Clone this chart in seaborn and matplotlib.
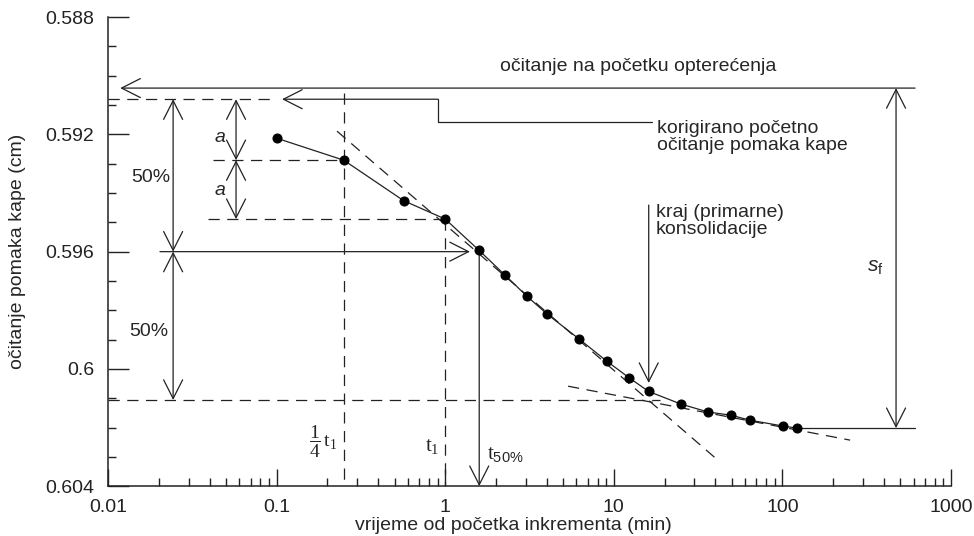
import numpy as np
import matplotlib
matplotlib.use('Agg')
import matplotlib.pyplot as plt
import matplotlib.ticker as mticker
import seaborn as sns

# ocitanja pomaka kape kroz vrijeme
time_min = [0.1, 0.25, 0.566, 1.0, 1.59, 2.26, 3.05, 4.02, 6.22, 9.05, 12.3, 16.1,
            25.0, 36.2, 49.5, 64.2, 100.8, 122]
reading_cm = [0.59213, 0.59288, 0.59426, 0.59489, 0.59596, 0.59680, 0.59752, 0.59813,
              0.59898, 0.59973, 0.60030, 0.60077, 0.60120, 0.60147, 0.60158, 0.60175,
              0.60195, 0.60202]

y_ticks = [0.588, 0.592, 0.596, 0.6, 0.604]
y_ticklabels = ['0.588', '0.592', '0.596', '0.6', '0.604']
x_ticks = [0.01, 0.1, 1, 10, 100, 1000]
x_ticklabels = ['0.01', '0.1', '1', '10', '100', '1000']

# karakteristicne razine
d_initial = 0.59042
d0 = 0.5908
d_a = 0.59288
d_2a = 0.59489
d50 = 0.596
d100 = 0.60106
d_final = 0.60202
t_quarter = 0.25
t1 = 1.0
t50 = 1.59
t_end = 16.1

# tangente
steep_x = [0.228, 42.7]
steep_y = [0.59189, 0.60318]
tail_x = [5.35, 252]
tail_y = [0.60059, 0.60243]

sns.set_style('ticks')
plt.rcParams['font.family'] = ['Liberation Sans', 'DejaVu Sans']
plt.rcParams['mathtext.fontset'] = 'custom'
plt.rcParams['mathtext.rm'] = 'Liberation Serif'
plt.rcParams['mathtext.it'] = 'Liberation Sans:italic'
plt.rcParams['mathtext.sf'] = 'Liberation Sans'

fig, ax = plt.subplots(figsize=(9.74, 5.36), dpi=100)
fig.subplots_adjust(left=0.111, right=0.9764, top=0.968, bottom=0.093)

ink = '#222222'
dash = (0, (9, 6))
lw = 0.9
fs = 14

sns.lineplot(x=time_min, y=reading_cm, ax=ax, color=ink, linewidth=lw,
             marker='o', markersize=6.5, markeredgecolor='black',
             markerfacecolor='black', zorder=5)

ax.set_xscale('log')
ax.set_xlim(0.01, 1000)
ax.set_ylim(0.604, 0.588)

ax.set_yticks(y_ticks)
ax.set_yticklabels(y_ticklabels)
ax.yaxis.set_minor_locator(mticker.MultipleLocator(0.001))
ax.set_xticks(x_ticks)
ax.set_xticklabels(x_ticklabels)
ax.xaxis.set_minor_locator(mticker.LogLocator(base=10, subs=np.arange(2, 10)))
ax.xaxis.set_minor_formatter(mticker.NullFormatter())

ax.tick_params(axis='both', which='major', direction='in', length=12, width=1,
               labelsize=fs, colors=ink)
ax.tick_params(axis='both', which='minor', direction='in', length=6, width=1,
               colors=ink)
ax.tick_params(axis='y', which='major', pad=10, length=15)
ax.tick_params(axis='x', which='major', pad=9)
sns.despine(ax=ax)
for s in ['left', 'bottom']:
    ax.spines[s].set_color(ink)
    ax.spines[s].set_linewidth(1.1)

ax.set_xlabel('vrijeme od početka inkrementa (min)', fontsize=fs)
ax.xaxis.set_label_coords(0.481, -0.065)
ax.set_ylabel('očitanje pomaka kape (cm)', fontsize=fs, labelpad=14)


def arrow(x0, y0, x1, y1, style='->'):
    ax.annotate('', xy=(x1, y1), xytext=(x0, y0),
                arrowprops=dict(arrowstyle=style + ',head_width=0.38,head_length=0.75',
                                color=ink, lw=lw, shrinkA=0, shrinkB=0,
                                mutation_scale=18))


# tangente i pomocne iscrtkane linije
ax.plot(steep_x, steep_y, color=ink, lw=lw, ls=dash)
ax.plot(tail_x, tail_y, color=ink, lw=lw, ls=dash)
ax.plot([0.01, 0.095], [d0, d0], color=ink, lw=lw, ls=dash)
ax.plot([0.042, t_quarter], [d_a, d_a], color=ink, lw=lw, ls=dash)
ax.plot([0.0392, t1], [d_2a, d_2a], color=ink, lw=lw, ls=dash)
ax.plot([0.01, 18.8], [d100, d100], color=ink, lw=lw, ls=dash)
ax.plot([t_quarter, t_quarter], [0.59059, 0.604], color=ink, lw=lw, ls=dash)
ax.plot([t1, t1], [d_2a, 0.604], color=ink, lw=lw, ls=dash)

# pocetno ocitanje
arrow(612, d_initial, 0.0118, d_initial)
ax.text(2.11, 0.5897, 'očitanje na početku opterećenja', fontsize=fs,
        va='center', ha='left')

# korigirano pocetno ocitanje
ax.plot([16.85, 0.906, 0.906], [0.59158, 0.59158, d0], color=ink, lw=lw)
arrow(0.906, d0, 0.1076, d0)
ax.text(18.0, 0.59209, 'korigirano početno\nočitanje pomaka kape', fontsize=fs,
        va='center', ha='left', linespacing=1.0)

# a, a
arrow(0.0574, d0, 0.0574, d_a, '<->')
arrow(0.0574, d_a, 0.0574, d_2a, '<->')
ax.text(0.0462, 0.59209, 'a', fontsize=fs, style='italic', ha='center', va='center')
ax.text(0.0462, 0.59393, 'a', fontsize=fs, style='italic', ha='center', va='center')

# 50 %
arrow(0.0243, d0, 0.0243, d50, '<->')
arrow(0.0243, d50, 0.0243, d100, '<->')
ax.text(0.018, 0.59346, '50%', fontsize=fs, ha='center', va='center')
ax.text(0.0175, 0.59871, '50%', fontsize=fs, ha='center', va='center')

# t50
arrow(0.0203, d50, 1.40, d50)
arrow(t50, d50, t50, 0.604)

# kraj primarne konsolidacije
arrow(t_end, 0.59441, t_end, 0.60048)
ax.text(17.8, 0.59496, 'kraj (primarne)\nkonsolidacije', fontsize=fs,
        va='center', ha='left', linespacing=1.0)

# konacno slijeganje
ax.plot([122, 612], [d_final, d_final], color=ink, lw=lw)
arrow(472, d_initial, 472, d_final, '<->')
ax.text(354, 0.59653, r'$\mathit{s}_\mathsf{f}$', fontsize=15, ha='center', va='center')

# oznake vremena
ax.text(0.19, 0.6025, r'$\dfrac{1}{4}\,\mathrm{t}_1$', fontsize=14, ha='center', va='center')
ax.text(0.84, 0.60267, r'$\mathrm{t}_1$', fontsize=15, ha='center', va='center')
ax.text(1.77, 0.60294, r'$\mathrm{t}_{\mathsf{50\%}}$', fontsize=15, ha='left', va='center')

plt.savefig('out.png', dpi=100)
